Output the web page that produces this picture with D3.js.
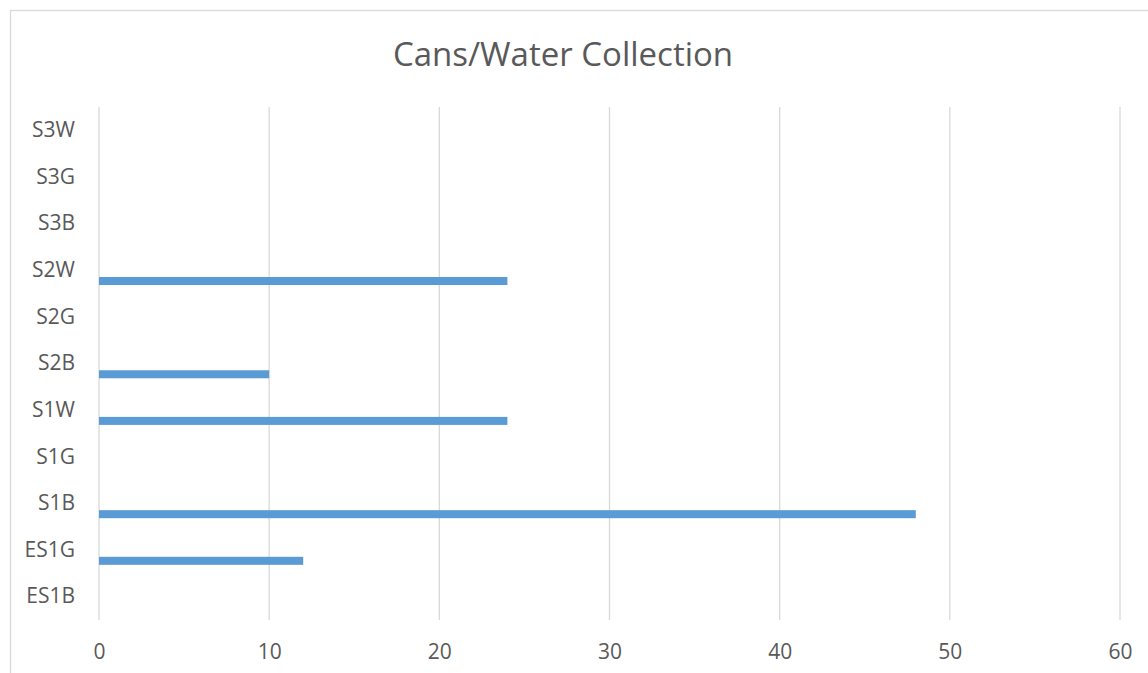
<!DOCTYPE html>
<html>
<head>
<meta charset="utf-8">
<script src="https://cdn.jsdelivr.net/npm/d3@7"></script>
<style>
  body { margin: 0; background: #fff; }
  svg { display: block; }
  text { font-family: "Open Sans", sans-serif; fill: #595959; }
</style>
</head>
<body>
<svg id="chart" width="1148" height="673"></svg>
<script>
// categories bottom to top, as they appear on the chart
const categories = ["ES1B", "ES1G", "S1B", "S1G", "S1W", "S2B", "S2G", "S2W", "S3B", "S3G", "S3W"];
const values = [0, 12, 48, 0, 24, 10, 0, 24, 0, 0, 0];
const xTicks = [0, 10, 20, 30, 40, 50, 60];
const title = "Cans/Water Collection";

const svg = d3.select("#chart"),
   margin = {top: 107, right: 28, bottom: 53, left: 99},
   width = +svg.attr("width"),
   height = +svg.attr("height");

// chart frame
svg.append("rect")
   .attr("x", 10.5)
   .attr("y", 10.5)
   .attr("width", width + 20)
   .attr("height", height + 20)
   .attr("fill", "none")
   .attr("stroke", "#d9d9d9")
   .attr("stroke-width", 1.3);

// title
svg.append("text")
   .attr("x", 563)
   .attr("y", 66)
   .attr("text-anchor", "middle")
   .attr("font-size", "33px")
   .text(title);

const xScale = d3.scaleLinear()
   .domain([0, 60])
   .range([margin.left, width - margin.right]);

const yScale = d3.scaleBand()
   .domain(categories.slice().reverse())
   .range([margin.top, height - margin.bottom]);

// vertical gridlines
svg.append("g")
   .selectAll("line")
   .data(xTicks)
   .join("line")
   .attr("x1", d => xScale(d))
   .attr("x2", d => xScale(d))
   .attr("y1", margin.top)
   .attr("y2", height - margin.bottom)
   .attr("stroke", "#d9d9d9")
   .attr("stroke-width", 1.3);

// bars (single series sits in the lower part of each band)
const bw = yScale.bandwidth();
svg.append("g")
   .selectAll("rect")
   .data(categories.map((c, i) => [c, values[i]]))
   .join("rect")
   .attr("x", xScale(0))
   .attr("y", d => yScale(d[0]) + bw * 0.645)
   .attr("width", d => xScale(d[1]) - xScale(0))
   .attr("height", bw * 0.172)
   .attr("fill", "#5b9bd5");

// x axis labels
const xAxis = svg.append("g")
   .attr("transform", `translate(0,${height - margin.bottom})`)
   .call(d3.axisBottom(xScale).tickValues(xTicks).tickSize(0).tickPadding(24));
xAxis.select(".domain").remove();
xAxis.selectAll("text")
   .attr("font-family", "'Open Sans', sans-serif")
   .attr("font-size", "21px")
   .attr("fill", "#595959");

// y axis labels
const yAxis = svg.append("g")
   .attr("transform", `translate(${margin.left},0)`)
   .call(d3.axisLeft(yScale).tickSize(0).tickPadding(24));
yAxis.select(".domain").remove();
yAxis.selectAll("text")
   .attr("font-family", "'Open Sans', sans-serif")
   .attr("font-size", "21px")
   .attr("fill", "#595959");
</script>
</body>
</html>
